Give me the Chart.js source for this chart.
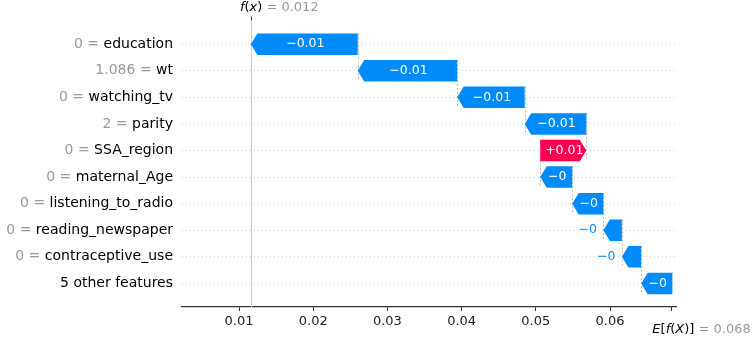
<!DOCTYPE html>
<html>
<head>
<meta charset="utf-8">
<script src="https://cdn.jsdelivr.net/npm/chart.js@4/dist/chart.umd.min.js"></script>
<style>
  html, body { margin: 0; padding: 0; background: #fff; }
  #wrap { width: 753px; height: 339px; }
</style>
</head>
<body>
<div id="wrap"><canvas id="shap"></canvas></div>
<script>
// top row first, as in the picture
const features = ['education', 'wt', 'watching_tv', 'parity', 'SSA_region', 'maternal_Age',
  'listening_to_radio', 'reading_newspaper', 'contraceptive_use', '5 other features'];
const featureValues = ['0', '1.086', '0', '2', '0', '0', '0', '0', '0', ''];
const shapValues = [-0.0144, -0.0134, -0.0091, -0.0083, 0.0062, -0.0043, -0.0042, -0.0025, -0.0026, -0.0042];
const baseValue = 0.0684;
const xTickValues = [0.01, 0.02, 0.03, 0.04, 0.05, 0.06];

const FONT = '"DejaVu Sans", sans-serif';
const BLUE = '#008bfb';
const RED = '#ff0051';
const LABEL_SIZE = 14;

// waterfall runs from the base value at the bottom up to f(x) at the top
const starts = [];
const ends = [];
let run = baseValue;
for (let i = features.length - 1; i >= 0; i--) {
  starts[i] = run;
  run += shapValues[i];
  ends[i] = run;
}
const fx = run;

function fmtShap(v) {
  const s = Math.abs(v).toFixed(2).replace(/\.?0+$/, '');
  return (v < 0 ? '\u2212' : '+') + s;
}

function drawParts(ctx, x, y, parts) {
  ctx.textBaseline = 'middle';
  ctx.textAlign = 'left';
  parts.forEach(p => {
    ctx.font = p[1];
    ctx.fillStyle = p[2];
    ctx.fillText(p[0], x, y);
    x += ctx.measureText(p[0]).width;
  });
}

const waterfall = {
  id: 'waterfall',
  beforeDatasetsDraw(chart) {
    const ctx = chart.ctx;
    const xs = chart.scales.x;
    const area = chart.chartArea;
    const meta = chart.getDatasetMeta(0);
    ctx.save();
    // f(x) line
    ctx.strokeStyle = '#cccccc';
    ctx.lineWidth = 1;
    const fxp = Math.round(xs.getPixelForValue(fx)) + 0.5;
    ctx.beginPath();
    ctx.moveTo(fxp, area.top);
    ctx.lineTo(fxp, area.bottom);
    ctx.stroke();
    // connectors between consecutive bars
    ctx.setLineDash([2, 2]);
    ctx.strokeStyle = '#bbbbbb';
    for (let i = 0; i < features.length - 1; i++) {
      const a = meta.data[i], b = meta.data[i + 1];
      const x = Math.round(xs.getPixelForValue(starts[i])) + 0.5;
      ctx.beginPath();
      ctx.moveTo(x, a.y - a.height / 2);
      ctx.lineTo(x, b.y + b.height / 2);
      ctx.stroke();
    }
    ctx.restore();
  },
  afterDatasetsDraw(chart) {
    const ctx = chart.ctx;
    const xs = chart.scales.x;
    const ys = chart.scales.y;
    const area = chart.chartArea;
    const meta = chart.getDatasetMeta(0);
    ctx.save();
    const barFont = '12.5px ' + FONT;
    features.forEach((f, i) => {
      const el = meta.data[i];
      const x0 = xs.getPixelForValue(starts[i]);
      const x1 = xs.getPixelForValue(ends[i]);
      const dir = x1 < x0 ? -1 : 1;
      const w = Math.abs(x1 - x0);
      const hl = Math.min(6.5, w);
      const xb = x1 - dir * hl;
      const h = el.height;
      const yc = el.y;
      const color = shapValues[i] < 0 ? BLUE : RED;
      ctx.fillStyle = color;
      ctx.beginPath();
      ctx.moveTo(x0, yc - h / 2);
      ctx.lineTo(xb, yc - h / 2);
      ctx.lineTo(x1, yc);
      ctx.lineTo(xb, yc + h / 2);
      ctx.lineTo(x0, yc + h / 2);
      ctx.closePath();
      ctx.fill();

      const txt = fmtShap(shapValues[i]);
      ctx.font = barFont;
      ctx.textBaseline = 'middle';
      const tw = ctx.measureText(txt).width;
      if (tw < w - hl) {
        ctx.fillStyle = '#ffffff';
        ctx.textAlign = 'center';
        ctx.fillText(txt, (x0 + x1) / 2 + 1, yc);
      } else {
        ctx.fillStyle = color;
        ctx.textAlign = dir < 0 ? 'right' : 'left';
        ctx.fillText(txt, x1 + dir * 6.5, yc);
      }

      // gray "value = " prefix in front of the feature name tick label
      if (featureValues[i] !== '') {
        ctx.font = LABEL_SIZE + 'px ' + FONT;
        const right = ys.right - ys.options.ticks.padding;
        const nw = ctx.measureText(f).width;
        ctx.fillStyle = '#999999';
        ctx.textAlign = 'right';
        ctx.fillText(featureValues[i] + ' = ', right - nw, ys.getPixelForValue(i));
      }
    });

    // f(x) annotation on top
    const fxp = xs.getPixelForValue(fx);
    ctx.strokeStyle = '#333';
    ctx.lineWidth = 1;
    ctx.beginPath();
    ctx.moveTo(Math.round(fxp) + 0.5, area.top - 1);
    ctx.lineTo(Math.round(fxp) + 0.5, area.top + 3);
    ctx.stroke();
    drawParts(ctx, fxp - 11, 8, [
      ['f', 'italic 13px ' + FONT, '#000'],
      ['(', '13px ' + FONT, '#000'],
      ['x', 'italic 13px ' + FONT, '#000'],
      [')', '13px ' + FONT, '#000'],
      [' = ' + fx.toFixed(3), '13px ' + FONT, '#999999']
    ]);

    // E[f(X)] annotation below
    const bp = xs.getPixelForValue(baseValue);
    ctx.beginPath();
    ctx.moveTo(Math.round(bp) - 0.5, area.bottom);
    ctx.lineTo(Math.round(bp) - 0.5, area.bottom + 4);
    ctx.stroke();
    drawParts(ctx, bp - 20, 330, [
      ['E', 'italic 13px ' + FONT, '#000'],
      ['[', '13px ' + FONT, '#000'],
      ['f', 'italic 13px ' + FONT, '#000'],
      ['(', '13px ' + FONT, '#000'],
      ['X', 'italic 13px ' + FONT, '#000'],
      [')]', '13px ' + FONT, '#000'],
      [' = ' + baseValue.toFixed(3), '13px ' + FONT, '#999999']
    ]);
    ctx.restore();
  }
};

new Chart(document.getElementById('shap').getContext('2d'), {
  type: 'bar',
  data: {
    datasets: [{
      data: features.map((f, i) => ({ x: [ends[i], starts[i]], y: i })),
      backgroundColor: 'rgba(0, 0, 0, 0)',
      borderWidth: 0,
      barPercentage: 1,
      categoryPercentage: 0.81
    }]
  },
  options: {
    indexAxis: 'y',
    responsive: true,
    maintainAspectRatio: false,
    animation: false,
    layout: { padding: { top: 15, right: 77, left: 0, bottom: 0 } },
    plugins: {
      legend: { display: false },
      tooltip: { enabled: false }
    },
    scales: {
      x: {
        type: 'linear',
        position: 'bottom',
        min: 0.002318,
        max: 0.06889,
        afterBuildTicks: (scale) => { scale.ticks = xTickValues.map(v => ({ value: v })); },
        afterFit: (scale) => { scale.height = 32; },
        grid: { drawOnChartArea: false, drawTicks: true, tickLength: 4, color: '#333', tickColor: '#333' },
        border: { display: true, color: '#333', width: 1.3 },
        ticks: {
          padding: 3,
          color: '#222',
          font: { family: FONT, size: 13 },
          callback: (v) => v.toFixed(2)
        }
      },
      y: {
        type: 'linear',
        reverse: true,
        offset: false,
        min: -1.0075,
        max: 9.888,
        afterBuildTicks: (scale) => { scale.ticks = features.map((f, i) => ({ value: i })); },
        afterFit: (scale) => { scale.width = 182; },
        grid: { color: '#cccccc', lineWidth: 1, drawTicks: false, offset: false },
        border: { display: false, dash: [1, 3] },
        ticks: {
          padding: 9,
          color: '#000',
          font: { family: FONT, size: LABEL_SIZE },
          callback: (v) => features[v]
        }
      }
    }
  },
  plugins: [waterfall]
});
</script>
</body>
</html>
